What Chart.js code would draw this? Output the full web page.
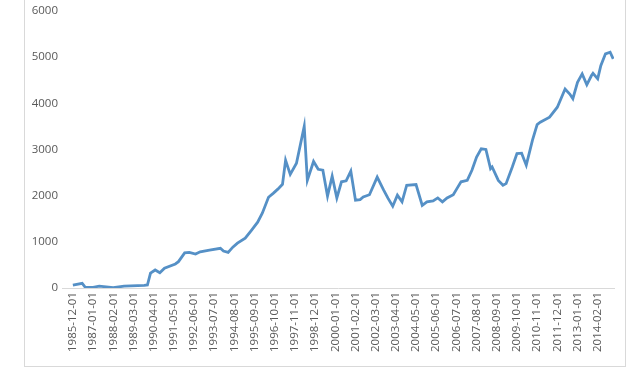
<!DOCTYPE html>
<html>
<head>
<meta charset="utf-8">
<script src="https://cdn.jsdelivr.net/npm/chart.js@4.4.1/dist/chart.umd.min.js"></script>
<style>
  body { margin: 0; background: #fff; }
  #frame { position: absolute; left: 24px; top: -2px; width: 600px; height: 367px; border: 1px solid #d9d9d9; }
  #c { position: absolute; left: 0; top: 0; }
</style>
</head>
<body>
<div id="frame"></div>
<canvas id="c" width="634" height="373"></canvas>
<script>
// month of each reading and its value
const dates = [
  "1985-12", "1986-06", "1986-08", "1987-01", "1987-05", "1988-02", "1988-09", "1989-10",
  "1989-12", "1990-02", "1990-05", "1990-08", "1990-11", "1991-06", "1991-08", "1991-12",
  "1992-03", "1992-07", "1992-10", "1993-04", "1993-11", "1994-01", "1994-04", "1994-07",
  "1994-10", "1995-03", "1995-07", "1995-11", "1996-02", "1996-06", "1996-09", "1996-12",
  "1997-03", "1997-05", "1997-08", "1997-12", "1998-05", "1998-07", "1998-11", "1999-02",
  "1999-05", "1999-08", "1999-11", "2000-02", "2000-05", "2000-08", "2000-11", "2001-02",
  "2001-05", "2001-07", "2001-11", "2002-04", "2002-08", "2002-11", "2003-02", "2003-05",
  "2003-08", "2003-11", "2004-05", "2004-09", "2004-12", "2005-04", "2005-07", "2005-10",
  "2006-01", "2006-05", "2006-08", "2006-10", "2007-02", "2007-05", "2007-08", "2007-11",
  "2008-02", "2008-05", "2008-06", "2008-10", "2009-01", "2009-03", "2009-07", "2009-10",
  "2010-01", "2010-04", "2010-08", "2010-11", "2011-01", "2011-07", "2011-12", "2012-05",
  "2012-08", "2012-10", "2013-01", "2013-04", "2013-07", "2013-10", "2013-11", "2014-02",
  "2014-04", "2014-07", "2014-10", "2014-12"
];
const values = [
  60, 100, 15, 15, 40, 8, 40, 55,
  65, 320, 390, 330, 430, 520, 570, 760,
  770, 735, 785, 820, 860, 800, 770, 885,
  970, 1080, 1250, 1425, 1620, 1965, 2050, 2140,
  2245, 2765, 2460, 2700, 3500, 2330, 2740, 2570,
  2550, 1990, 2420, 1950, 2300, 2320, 2530, 1900,
  1915, 1970, 2020, 2400, 2130, 1940, 1770, 2010,
  1865, 2225, 2240, 1790, 1865, 1885, 1950, 1865,
  1950, 2020, 2190, 2300, 2330, 2550, 2835, 3015,
  3000, 2585, 2620, 2330, 2225, 2260, 2620, 2910,
  2920, 2660, 3200, 3540, 3590, 3700, 3915, 4310,
  4200, 4100, 4455, 4635, 4400, 4600, 4650, 4530,
  4815, 5070, 5105, 4960
];
const tickLabels = [
  "1985-12-01", "1987-01-01", "1988-02-01", "1989-03-01", "1990-04-01", "1991-05-01",
  "1992-06-01", "1993-07-01", "1994-08-01", "1995-09-01", "1996-10-01", "1997-11-01",
  "1998-12-01", "2000-01-01", "2001-02-01", "2002-03-01", "2003-04-01", "2004-05-01",
  "2005-06-01", "2006-07-01", "2007-08-01", "2008-09-01", "2009-10-01", "2010-11-01",
  "2011-12-01", "2013-01-01", "2014-02-01"
];

function monthIndex(s) {
  var y = parseInt(s.slice(0, 4)), m = parseInt(s.slice(5, 7));
  return (y - 1985) * 12 + (m - 12);
}

const points = dates.map((d, i) => ({ x: monthIndex(d), y: values[i] }));
const tickPos = tickLabels.map(monthIndex);

const font = { family: "'Open Sans', sans-serif", size: 11.5 };

new Chart(document.getElementById("c"), {
  type: "line",
  data: {
    datasets: [{
      data: points,
      borderColor: "#5590c6",
      borderWidth: 2.8,
      pointRadius: 0,
      fill: false,
      tension: 0,
    }],
  },
  options: {
    responsive: false,
    animation: false,
    layout: { padding: { top: 10, right: 20, left: 0, bottom: 0 } },
    plugins: { legend: { display: false }, tooltip: { enabled: false } },
    scales: {
      x: {
        type: "linear",
        min: -7,
        max: 348.5,
        grid: { display: false, drawTicks: false },
        border: { display: true, color: "#d9d9d9", width: 1 },
        afterBuildTicks: (axis) => { axis.ticks = tickPos.map(v => ({ value: v })); },
        afterFit: (axis) => { axis.height = 85; },
        ticks: {
          autoSkip: false,
          minRotation: 90,
          maxRotation: 90,
          padding: 4,
          color: "#595959",
          font: font,
          callback: (v, i) => tickLabels[i],
        },
      },
      y: {
        min: 0,
        max: 6000,
        grid: { display: false, drawTicks: false },
        border: { display: false },
        afterFit: (axis) => { axis.width = 62; },
        ticks: { stepSize: 1000, padding: 4, color: "#595959", font: font, callback: (v) => String(v) },
      },
    },
  },
});
</script>
</body>
</html>
